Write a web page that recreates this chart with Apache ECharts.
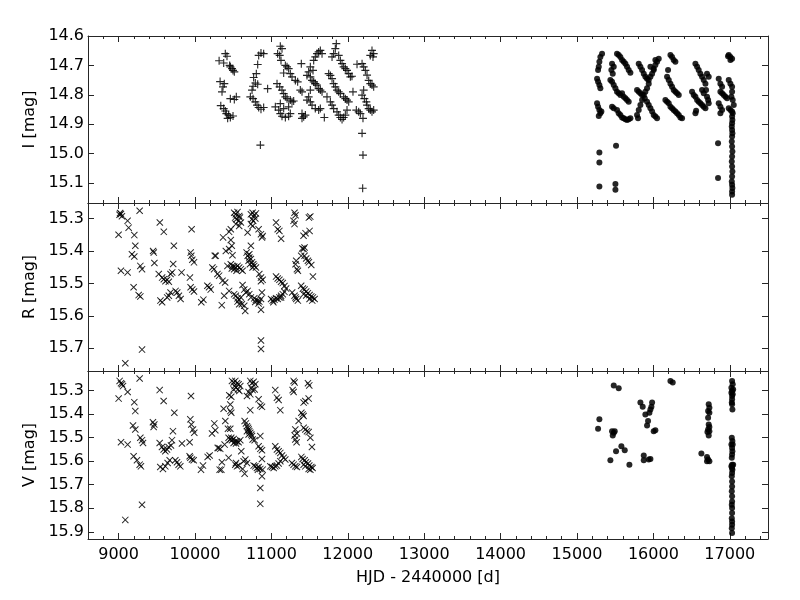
<!DOCTYPE html>
<html>
<head>
<meta charset="utf-8">
<script src="https://cdn.jsdelivr.net/npm/echarts@6/dist/echarts.min.js"></script>
<style>
  html, body { margin: 0; padding: 0; background: #fff; }
  #main { width: 800px; height: 600px; }
</style>
</head>
<body>
<div id="main"></div>
<script>
// axis ranges and tick labels
const hjdRange = [8600, 17500]
const hjdTicks = [9000, 10000, 11000, 12000, 13000, 14000, 15000, 16000, 17000]
const iRange = [14.6, 15.168]
const iTicks = [14.6, 14.7, 14.8, 14.9, 15.0, 15.1]
const rRange = [15.252, 15.77]
const rTicks = [15.3, 15.4, 15.5, 15.6, 15.7]
const vRange = [15.218, 15.93]
const vTicks = [15.3, 15.4, 15.5, 15.6, 15.7, 15.8, 15.9]

// I band, first data set (plus markers)
const iPlus = [
  [10316, 14.684], [10329, 14.755], [10338, 14.837],
  [10397, 14.660], [10419, 14.669], [10376, 14.692], [10454, 14.700], [10463, 14.705], [10485, 14.711], [10498, 14.717], [10515, 14.722],
  [10384, 14.762], [10367, 14.773], [10354, 14.790], [10463, 14.813], [10515, 14.816], [10541, 14.807],
  [10376, 14.847], [10397, 14.855], [10411, 14.864], [10441, 14.869], [10463, 14.877], [10498, 14.872], [10428, 14.880],
  [10834, 14.666], [10864, 14.658], [10899, 14.660], [10821, 14.697], [10803, 14.728], [10768, 14.741], [10790, 14.760],
  [10821, 14.764], [10760, 14.771], [10747, 14.784], [10725, 14.807], [10760, 14.813], [10790, 14.824], [10812, 14.835],
  [10834, 14.843], [10864, 14.849], [10899, 14.843], [10951, 14.779], [10856, 14.971],
  [11117, 14.635], [11139, 14.643], [11082, 14.660], [11109, 14.666], [11126, 14.683], [11183, 14.700], [11205, 14.705],
  [11226, 14.711], [11161, 14.726], [11248, 14.728], [11270, 14.739], [11314, 14.751], [11344, 14.756], [11392, 14.694],
  [11074, 14.762], [11109, 14.773], [11139, 14.784], [11161, 14.796], [11183, 14.807], [11205, 14.813], [11248, 14.818],
  [11270, 14.824], [11292, 14.821], [11052, 14.841], [11096, 14.852], [11117, 14.864], [11139, 14.873], [11183, 14.877],
  [11226, 14.873], [11248, 14.864], [11226, 14.841], [11117, 14.830], [11161, 14.847],
  [11554, 14.683], [11575, 14.671], [11597, 14.660], [11619, 14.654], [11641, 14.649], [11663, 14.660], [11510, 14.705],
  [11488, 14.722], [11466, 14.734], [11510, 14.739], [11532, 14.751], [11554, 14.756], [11575, 14.762], [11597, 14.767],
  [11619, 14.779], [11641, 14.784], [11663, 14.790], [11379, 14.784], [11401, 14.790], [11488, 14.807], [11466, 14.818],
  [11510, 14.824], [11532, 14.835], [11575, 14.847], [11619, 14.852], [11641, 14.847], [11401, 14.864], [11423, 14.875],
  [11445, 14.869], [11401, 14.880], [11510, 14.784], [11545, 14.717], [11693, 14.877],
  [11850, 14.626], [11837, 14.643], [11815, 14.660], [11881, 14.666], [11794, 14.671], [11903, 14.683], [11925, 14.694],
  [11946, 14.705], [11968, 14.711], [11990, 14.717], [12012, 14.728], [12034, 14.739], [12055, 14.737], [11750, 14.728],
  [11772, 14.734], [11794, 14.745], [11815, 14.762], [11837, 14.773], [11859, 14.784], [11881, 14.790], [11903, 14.796],
  [11946, 14.807], [11968, 14.813], [11990, 14.818], [12012, 14.824], [11728, 14.807], [11772, 14.824], [11794, 14.835],
  [11815, 14.847], [11859, 14.858], [11881, 14.869], [11903, 14.877], [11925, 14.884], [11946, 14.877], [11968, 14.869],
  [11990, 14.852], [12068, 14.790],
  [12317, 14.649], [12339, 14.660], [12330, 14.671], [12295, 14.666], [12121, 14.696], [12187, 14.694], [12208, 14.705],
  [12230, 14.717], [12252, 14.733], [12274, 14.751], [12295, 14.762], [12317, 14.767], [12339, 14.773], [12208, 14.784],
  [12187, 14.801], [12217, 14.813], [12243, 14.824], [12252, 14.835], [12274, 14.847], [12295, 14.852], [12317, 14.858],
  [12339, 14.852], [12112, 14.852], [12143, 14.858], [12165, 14.864], [12199, 14.880], [12187, 14.931], [12199, 15.005],
  [12195, 15.118]
]

// I band, second data set (dots)
const iDots = [
  [15328, 14.660], [15306, 14.671], [15293, 14.688], [15285, 14.705], [15276, 14.716], [15263, 14.745], [15276, 14.756],
  [15293, 14.767], [15306, 14.778], [15263, 14.829], [15276, 14.841], [15293, 14.852], [15306, 14.863], [15285, 14.872],
  [15319, 14.857], [15293, 14.996], [15293, 15.030], [15293, 15.112], [15511, 14.973], [15503, 15.103], [15503, 15.123],
  [15524, 14.660], [15546, 14.665], [15568, 14.671], [15590, 14.682], [15612, 14.688], [15634, 14.694], [15655, 14.705],
  [15677, 14.716], [15699, 14.725], [15459, 14.694], [15481, 14.705], [15450, 14.716], [15468, 14.728], [15437, 14.750],
  [15459, 14.756], [15481, 14.767], [15503, 14.778], [15524, 14.790], [15546, 14.795], [15568, 14.801], [15590, 14.795],
  [15612, 14.807], [15634, 14.812], [15655, 14.818], [15677, 14.824], [15459, 14.841], [15481, 14.846], [15524, 14.852],
  [15546, 14.863], [15568, 14.869], [15590, 14.877], [15612, 14.880], [15634, 14.883], [15655, 14.886], [15677, 14.883],
  [15699, 14.880],
  [15808, 14.694], [15830, 14.705], [15852, 14.716], [15874, 14.728], [15895, 14.739], [15917, 14.745], [15939, 14.750],
  [16070, 14.677], [16048, 14.688], [16026, 14.699], [16004, 14.711], [15983, 14.728], [15961, 14.739], [15939, 14.762],
  [15917, 14.778], [15895, 14.790], [15874, 14.801], [15852, 14.818], [15830, 14.835], [15808, 14.852], [15786, 14.869],
  [15799, 14.880], [15786, 14.784], [15808, 14.790], [15830, 14.795], [15852, 14.801], [15887, 14.812], [15917, 14.824],
  [15939, 14.835], [15961, 14.846], [15983, 14.857], [16004, 14.869], [16026, 14.874], [16048, 14.880], [15961, 14.705],
  [16004, 14.716], [16026, 14.682],
  [16223, 14.665], [16244, 14.671], [16266, 14.682], [16288, 14.688], [16192, 14.716], [16179, 14.739], [16201, 14.750],
  [16223, 14.762], [16244, 14.773], [16266, 14.784], [16288, 14.790], [16310, 14.795], [16332, 14.801], [16157, 14.818],
  [16179, 14.824], [16201, 14.829], [16223, 14.841], [16244, 14.846], [16266, 14.852], [16288, 14.857], [16310, 14.863],
  [16332, 14.869], [16353, 14.877], [16375, 14.880],
  [16550, 14.694], [16572, 14.705], [16593, 14.716], [16615, 14.728], [16637, 14.739], [16659, 14.750], [16681, 14.762],
  [16689, 14.784], [16702, 14.807], [16716, 14.818], [16724, 14.829], [16506, 14.790], [16528, 14.801], [16550, 14.807],
  [16572, 14.818], [16593, 14.824], [16615, 14.829], [16637, 14.835], [16659, 14.841], [16681, 14.846], [16550, 14.863],
  [16559, 14.854], [16702, 14.728], [16724, 14.739], [16637, 14.784], [16659, 14.795],
  [16986, 14.665], [17008, 14.671], [17030, 14.677], [17008, 14.682], [16977, 14.669], [16855, 14.745], [16877, 14.762],
  [16899, 14.773], [16877, 14.790], [16899, 14.795], [16921, 14.801], [16943, 14.807], [16964, 14.812], [16986, 14.750],
  [17008, 14.762], [17030, 14.773], [17030, 14.790], [17021, 14.807], [17038, 14.818], [17052, 14.835], [16855, 14.829],
  [16877, 14.841], [16899, 14.852], [16877, 14.863], [16986, 14.846], [17008, 14.852], [17030, 14.857], [17038, 14.863],
  [17030, 14.874], [17034, 14.886], [17030, 14.897], [17026, 14.908], [17030, 14.920], [17034, 14.931], [17030, 14.942],
  [17026, 14.959], [17030, 14.976], [17034, 14.993], [17030, 15.010], [17026, 15.027], [17030, 15.044], [17034, 15.061],
  [17030, 15.078], [17026, 15.095], [17030, 15.106], [17034, 15.117], [17030, 15.129], [17030, 15.140],
  [16846, 14.965], [16846, 15.083]
]

// R band (x markers)
const rCross = [
  [9013, 15.288], [9031, 15.286], [9044, 15.293], [9020, 15.283], [9276, 15.276], [9118, 15.307], [9132, 15.328],
  [9000, 15.350], [9206, 15.351], [9219, 15.384], [9175, 15.410], [9206, 15.417], [9285, 15.446], [9307, 15.456],
  [9031, 15.461], [9118, 15.466], [9197, 15.512], [9263, 15.536], [9285, 15.540], [9307, 15.704], [9088, 15.746],
  [9540, 15.312], [9592, 15.341], [9452, 15.400], [9461, 15.405], [9469, 15.437], [9724, 15.384], [9715, 15.440],
  [9526, 15.471], [9570, 15.482], [9592, 15.487], [9614, 15.493], [9636, 15.489], [9658, 15.495], [9680, 15.471],
  [9702, 15.466], [9825, 15.466], [9934, 15.482], [9548, 15.553], [9570, 15.558], [9636, 15.543], [9658, 15.538],
  [9680, 15.528], [9746, 15.523], [9768, 15.528], [9790, 15.538], [9812, 15.548], [9956, 15.333], [9943, 15.405],
  [9952, 15.415], [9965, 15.427], [9987, 15.435], [9943, 15.512], [9965, 15.519], [9987, 15.525], [10083, 15.558],
  [10110, 15.550], [10162, 15.507], [10184, 15.512], [10206, 15.519], [10259, 15.415], [10228, 15.451], [10250, 15.456],
  [10294, 15.471], [10272, 15.415],
  [10368, 15.358], [10447, 15.341], [10469, 15.333], [10469, 15.366], [10482, 15.384], [10447, 15.394], [10404, 15.400],
  [10491, 15.413], [10316, 15.476], [10360, 15.492], [10395, 15.497], [10447, 15.523], [10382, 15.538], [10351, 15.567],
  [10513, 15.282], [10535, 15.287], [10557, 15.280], [10579, 15.292], [10526, 15.297], [10544, 15.302], [10570, 15.307],
  [10588, 15.297], [10601, 15.312], [10535, 15.317], [10579, 15.323],
  [10732, 15.287], [10754, 15.282], [10776, 15.290], [10798, 15.284], [10746, 15.302], [10763, 15.307], [10790, 15.300],
  [10732, 15.317], [10754, 15.323], [10689, 15.343], [10833, 15.333], [10864, 15.348], [10886, 15.354], [10877, 15.358],
  [10732, 15.384],
  [10469, 15.441], [10491, 15.446], [10513, 15.448], [10535, 15.451], [10557, 15.446], [10579, 15.451], [10513, 15.456],
  [10544, 15.461], [10482, 15.454], [10601, 15.456], [10623, 15.461], [10425, 15.446],
  [10676, 15.405], [10689, 15.415], [10711, 15.420], [10732, 15.425], [10702, 15.430], [10746, 15.435], [10763, 15.441],
  [10776, 15.446], [10719, 15.441], [10754, 15.451], [10798, 15.451], [10711, 15.410],
  [10842, 15.471], [10864, 15.482], [10886, 15.489], [10864, 15.493],
  [10513, 15.533], [10535, 15.538], [10557, 15.546], [10579, 15.550], [10601, 15.543], [10557, 15.556], [10579, 15.564],
  [10623, 15.505], [10645, 15.519], [10667, 15.528], [10689, 15.523], [10711, 15.533], [10732, 15.543], [10645, 15.569],
  [10658, 15.585], [10614, 15.564],
  [10776, 15.546], [10798, 15.550], [10820, 15.553], [10842, 15.556], [10864, 15.548], [10789, 15.557], [10833, 15.562],
  [10877, 15.528], [10864, 15.581], [10864, 15.676], [10864, 15.702],
  [10996, 15.548], [11018, 15.553], [11040, 15.550], [11061, 15.546], [11083, 15.548], [11105, 15.543], [11127, 15.538],
  [11026, 15.558], [11061, 15.312], [11083, 15.333], [11105, 15.338], [11127, 15.362],
  [11061, 15.479], [11083, 15.485], [11105, 15.489], [11127, 15.495], [11149, 15.499], [11171, 15.508], [11193, 15.516],
  [11171, 15.526], [11149, 15.533], [11127, 15.543],
  [11303, 15.282], [11316, 15.290], [11290, 15.307], [11303, 15.317],
  [11272, 15.528], [11303, 15.538], [11325, 15.548], [11347, 15.553], [11316, 15.543],
  [11325, 15.430], [11316, 15.441], [11334, 15.456], [11347, 15.461],
  [11404, 15.392], [11421, 15.394], [11434, 15.389], [11390, 15.415], [11434, 15.415], [11456, 15.423], [11478, 15.430],
  [11491, 15.435], [11522, 15.443], [11421, 15.353], [11447, 15.345], [11500, 15.338], [11491, 15.297], [11509, 15.294],
  [11544, 15.479],
  [11390, 15.507], [11412, 15.516], [11434, 15.519], [11456, 15.525], [11478, 15.530], [11500, 15.536], [11522, 15.540],
  [11544, 15.543], [11566, 15.548], [11456, 15.537], [11500, 15.548], [11535, 15.553], [11421, 15.533]
]

// V band, first data set (x markers)
const vCross = [
  [9014, 15.260], [9032, 15.270], [9058, 15.282], [9045, 15.274], [9276, 15.250], [9119, 15.307], [9001, 15.335],
  [9206, 15.350], [9219, 15.388], [9538, 15.299], [9590, 15.345], [9948, 15.324], [9730, 15.395], [9450, 15.435],
  [9468, 15.445], [9459, 15.455], [9189, 15.449], [9219, 15.466], [9285, 15.501], [9307, 15.511], [9320, 15.523],
  [9712, 15.473], [9032, 15.520], [9119, 15.530], [9939, 15.423], [9952, 15.445], [9974, 15.466], [9991, 15.480],
  [10223, 15.483], [10253, 15.440], [9538, 15.523], [9568, 15.540], [9590, 15.551], [9612, 15.558], [9634, 15.551],
  [9686, 15.534], [9699, 15.511], [9655, 15.540], [9830, 15.525], [9930, 15.520], [9197, 15.579], [9241, 15.596],
  [9276, 15.615], [9293, 15.622], [9546, 15.625], [9581, 15.633], [9612, 15.622], [9642, 15.608], [9669, 15.596],
  [9743, 15.596], [9765, 15.605], [9786, 15.615], [9808, 15.622], [9930, 15.579], [9961, 15.593], [9983, 15.596],
  [9939, 15.586], [10079, 15.636], [10105, 15.619], [10166, 15.582], [10192, 15.576], [9307, 15.785], [9088, 15.849],
  [10297, 15.544], [10323, 15.636],
  [10484, 15.260], [10506, 15.267], [10528, 15.260], [10550, 15.270], [10571, 15.274], [10519, 15.282], [10537, 15.289],
  [10563, 15.296], [10593, 15.282], [10580, 15.303], [10506, 15.296],
  [10724, 15.260], [10746, 15.270], [10768, 15.264], [10790, 15.274], [10737, 15.289], [10755, 15.299], [10781, 15.296],
  [10702, 15.307], [10724, 15.317], [10449, 15.321], [10475, 15.327], [10681, 15.324], [10833, 15.338], [10855, 15.364],
  [10877, 15.370], [10375, 15.378], [10462, 15.360], [10462, 15.388], [10475, 15.395], [10724, 15.384],
  [11051, 15.299], [11073, 15.331], [11095, 15.341], [11117, 15.384], [11291, 15.260], [11304, 15.267], [11278, 15.299],
  [11291, 15.307], [11479, 15.270], [11496, 15.279], [11422, 15.352], [11444, 15.345], [11488, 15.335], [11392, 15.395],
  [11409, 15.402], [11422, 15.409], [11357, 15.430], [11313, 15.466], [11335, 15.483], [11304, 15.491], [11313, 15.508],
  [11330, 15.520], [11422, 15.459], [11444, 15.466], [11466, 15.473], [11488, 15.477], [11510, 15.501], [11531, 15.540],
  [10397, 15.430], [10432, 15.463], [10462, 15.463], [10266, 15.469],
  [10440, 15.501], [10462, 15.508], [10484, 15.511], [10506, 15.506], [10528, 15.516], [10550, 15.516], [10571, 15.520],
  [10593, 15.511], [10506, 15.523], [10537, 15.525], [10475, 15.501], [10310, 15.544], [10331, 15.548], [10388, 15.530],
  [10650, 15.430], [10667, 15.440], [10680, 15.452], [10694, 15.459], [10702, 15.466], [10711, 15.473], [10724, 15.480],
  [10737, 15.487], [10746, 15.494], [10680, 15.473], [10702, 15.487], [10755, 15.508], [10781, 15.511], [10855, 15.494],
  [10833, 15.537], [10855, 15.548], [10877, 15.554], [10606, 15.558], [10440, 15.586], [10353, 15.605], [10345, 15.636],
  [10528, 15.615], [10550, 15.622], [10571, 15.619], [10537, 15.608], [10637, 15.601], [10659, 15.593], [10681, 15.608],
  [10624, 15.633], [10650, 15.653], [10790, 15.622], [10811, 15.629], [10833, 15.625], [10768, 15.619], [10824, 15.636],
  [10855, 15.633], [10877, 15.591], [10886, 15.636], [10877, 15.664], [10855, 15.714], [10855, 15.781],
  [11051, 15.537], [11073, 15.551], [11095, 15.558], [11117, 15.565], [11139, 15.576], [11160, 15.586], [11182, 15.593],
  [10986, 15.622], [11008, 15.625], [11030, 15.629], [11051, 15.622], [11073, 15.619], [11095, 15.610], [11117, 15.600],
  [11269, 15.608], [11291, 15.615], [11313, 15.622], [11335, 15.625],
  [11392, 15.582], [11409, 15.591], [11435, 15.596], [11453, 15.605], [11479, 15.610], [11496, 15.619], [11523, 15.625],
  [11540, 15.629], [11444, 15.622], [11488, 15.633], [11510, 15.636], [11422, 15.615]
]

// V band, second data set (dots)
const vDots = [
  [15481, 15.279], [15546, 15.291], [16223, 15.260], [16253, 15.267], [15293, 15.423], [15276, 15.463],
  [15459, 15.473], [15481, 15.480], [15468, 15.491], [15494, 15.473], [15581, 15.537], [15625, 15.554], [15511, 15.558],
  [15437, 15.596], [15686, 15.615],
  [15830, 15.352], [15860, 15.369], [15895, 15.402], [15930, 15.430], [15917, 15.449], [15948, 15.395], [15974, 15.369],
  [15983, 15.352], [15961, 15.381], [16004, 15.473], [16026, 15.469], [15874, 15.576], [15874, 15.596], [15939, 15.593],
  [15961, 15.591],
  [16628, 15.568], [16702, 15.582], [16716, 15.593], [16733, 15.600], [16702, 15.600], [16724, 15.359], [16733, 15.374],
  [16716, 15.388], [16733, 15.395], [16716, 15.416], [16724, 15.445], [16733, 15.455], [16716, 15.466], [16733, 15.473],
  [16724, 15.491], [16707, 15.477],
  [17030, 15.260], [17038, 15.274], [17021, 15.289], [17044, 15.296], [17030, 15.303], [17021, 15.310], [17038, 15.317],
  [17030, 15.324], [17030, 15.338], [17026, 15.352], [17030, 15.359], [17034, 15.381],
  [17026, 15.501], [17034, 15.515], [17021, 15.530], [17038, 15.530], [17030, 15.544], [17034, 15.558], [17030, 15.572],
  [17026, 15.586], [17030, 15.615], [17044, 15.615], [17021, 15.622], [17030, 15.629], [17034, 15.636], [17030, 15.650],
  [17026, 15.664], [17030, 15.686], [17030, 15.707], [17026, 15.728], [17030, 15.749], [17030, 15.771], [17026, 15.785],
  [17030, 15.799], [17030, 15.820], [17026, 15.842], [17030, 15.856], [17030, 15.870], [17026, 15.884], [17030, 15.905]
]

const font = 'DejaVu Sans'
const frameColor = '#262626'
const plusPath = 'path://M4.3,0H5.7V10H4.3Z M0,4.3H10V5.7H0Z'
const crossPath = 'path://M0,1L1,0L10,9L9,10Z M9,0L10,1L1,10L0,9Z'

const panels = [
  { top: 36, height: 167, name: 'I [mag]', range: iRange, ticks: iTicks },
  { top: 203, height: 168, name: 'R [mag]', range: rRange, ticks: rTicks },
  { top: 371, height: 168, name: 'V [mag]', range: vRange, ticks: vTicks }
]

let grids = []
let xAxes = []
let yAxes = []
panels.forEach((p, g) => {
  grids.push({ left: 88, right: 32, top: p.top, height: p.height })
  let last = g === panels.length - 1
  // major ticks, bottom and top
  ;['bottom', 'top'].forEach(pos => {
    xAxes.push({
      gridIndex: g,
      type: 'value',
      position: pos,
      min: hjdRange[0],
      max: hjdRange[1],
      axisLine: { show: true, onZero: false, lineStyle: { color: frameColor, width: 1 } },
      axisTick: { show: true, inside: true, length: 6, customValues: hjdTicks, lineStyle: { color: frameColor } },
      axisLabel: {
        show: last && pos === 'bottom',
        customValues: hjdTicks,
        formatter: v => String(v),
        margin: 8,
        color: '#000',
        fontFamily: font,
        fontSize: 16
      },
      splitLine: { show: false },
      name: last && pos === 'bottom' ? 'HJD - 2440000 [d]' : '',
      nameLocation: 'middle',
      nameGap: 31,
      nameTextStyle: { color: '#000', fontFamily: font, fontSize: 16 }
    })
  })
  // minor ticks, bottom and top
  ;['bottom', 'top'].forEach(pos => {
    xAxes.push({
      gridIndex: g,
      type: 'value',
      position: pos,
      min: hjdRange[0],
      max: hjdRange[1],
      interval: 200,
      axisLine: { show: false, onZero: false },
      axisTick: { show: true, inside: true, length: 3, lineStyle: { color: frameColor } },
      axisLabel: { show: false },
      splitLine: { show: false }
    })
  })
  ;['left', 'right'].forEach(pos => {
    yAxes.push({
      gridIndex: g,
      type: 'value',
      position: pos,
      inverse: true,
      min: p.range[0],
      max: p.range[1],
      axisLine: { show: true, onZero: false, lineStyle: { color: frameColor, width: 1 } },
      axisTick: { show: true, inside: true, length: 6, customValues: p.ticks, lineStyle: { color: frameColor } },
      axisLabel: {
        show: pos === 'left',
        customValues: p.ticks,
        formatter: v => Number(v).toFixed(1),
        margin: 4,
        color: '#000',
        fontFamily: font,
        fontSize: 16
      },
      splitLine: { show: false },
      name: pos === 'left' ? p.name : '',
      nameLocation: 'middle',
      nameGap: 44,
      nameTextStyle: { color: '#000', fontFamily: font, fontSize: 16 }
    })
  })
})

function scatter (data, g, symbol, size) {
  return {
    type: 'scatter',
    data: data,
    xAxisIndex: g * 4,
    yAxisIndex: g * 2,
    symbol: symbol,
    symbolSize: size,
    silent: true,
    itemStyle: { color: '#000', opacity: 0.85 }
  }
}

let option = {
  animation: false,
  backgroundColor: '#fff',
  textStyle: { fontFamily: font },
  grid: grids,
  xAxis: xAxes,
  yAxis: yAxes,
  series: [
    scatter(iPlus, 0, plusPath, 8),
    scatter(iDots, 0, 'circle', 6),
    scatter(rCross, 1, crossPath, 7),
    scatter(vCross, 2, crossPath, 7),
    scatter(vDots, 2, 'circle', 6)
  ]
}

let chart = echarts.init(document.getElementById('main'))
chart.setOption(option)
</script>
</body>
</html>
